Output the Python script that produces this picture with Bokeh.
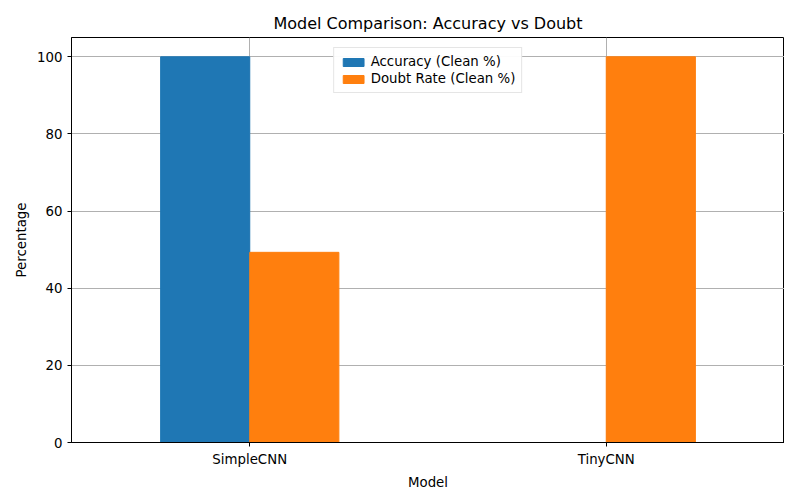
from bokeh.plotting import figure
from bokeh.models import FixedTicker, Range1d, Legend, LegendItem
from bokeh.embed import file_html
from bokeh.resources import INLINE

models = ["SimpleCNN", "TinyCNN"]
accuracy = [100.0, 0.0]
doubt = [49.3, 100.0]
x_pos = [0, 1]

p = figure(width=784, height=484, output_backend="svg", toolbar_location=None,
           title="Model Comparison: Accuracy vs Doubt",
           x_range=Range1d(-0.5, 1.5), y_range=Range1d(0, 105),
           frame_width=713, frame_height=405,
           min_border_left=71, min_border_top=37, min_border_right=0, min_border_bottom=42)
p.title.align = "center"
p.title.text_font = "DejaVu Sans"
p.title.text_font_style = "normal"
p.title.text_font_size = "12pt"
p.title.text_color = "black"

b1 = p.vbar(x=[x - 0.125 for x in x_pos], top=accuracy, width=0.25, color="#1f77b4")
b2 = p.vbar(x=[x + 0.125 for x in x_pos], top=doubt, width=0.25, color="#ff7f0e")

p.xaxis.ticker = FixedTicker(ticks=x_pos)
p.xaxis.major_label_overrides = {0: models[0], 1: models[1]}
p.yaxis.ticker = FixedTicker(ticks=[0, 20, 40, 60, 80, 100])
p.xaxis.axis_label = "Model"
p.yaxis.axis_label = "Percentage"
for ax in (p.xaxis[0], p.yaxis[0]):
    ax.axis_label_text_font = "DejaVu Sans"
    ax.axis_label_text_font_style = "normal"
    ax.axis_label_text_font_size = "10pt"
    ax.axis_label_text_color = "black"
    ax.major_label_text_font = "DejaVu Sans"
    ax.major_label_text_font_size = "10pt"
    ax.major_label_text_color = "black"
    ax.minor_tick_line_color = None
    ax.major_tick_in = 0
    ax.major_tick_out = 4
    ax.major_tick_line_color = "black"
    ax.axis_line_color = "black"
p.grid.grid_line_color = "#b0b0b0"
p.grid.grid_line_alpha = 1.0
p.outline_line_color = "black"
p.outline_line_alpha = 1.0

legend = Legend(items=[LegendItem(label="Accuracy (Clean %)", renderers=[b1]),
                       LegendItem(label="Doubt Rate (Clean %)", renderers=[b2])],
                location="top_center", label_text_font="DejaVu Sans",
                label_text_font_size="10pt", label_text_color="black",
                glyph_height=10, glyph_width=26,
                spacing=2, padding=6, border_line_color="#cccccc")
p.add_layout(legend)

open("out.html", "w").write(file_html(p, INLINE))
